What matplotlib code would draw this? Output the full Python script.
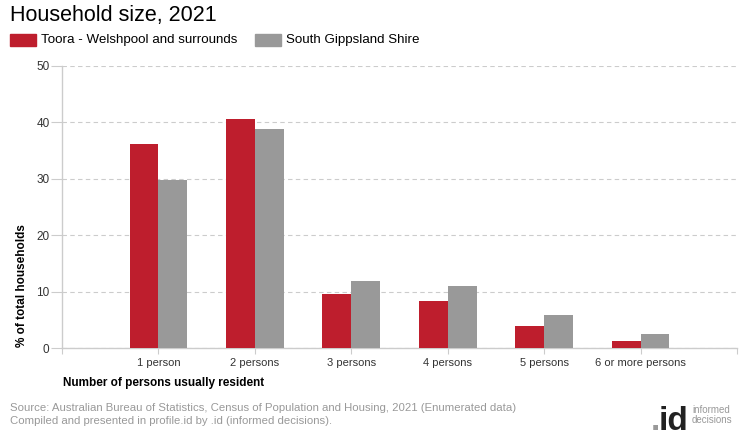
import numpy as np
import matplotlib
matplotlib.use("Agg")
import matplotlib.pyplot as plt
from matplotlib.patches import Rectangle

plt.rcParams['font.family'] = ['Liberation Sans', 'DejaVu Sans']

categories = ["1 person", "2 persons", "3 persons", "4 persons", "5 persons", "6 or more persons"]
toora = [36.2, 40.6, 9.6, 8.3, 3.9, 1.2]
south_gippsland = [29.8, 38.8, 11.9, 11.0, 5.9, 2.5]
series_names = ["Toora - Welshpool and surrounds", "South Gippsland Shire"]
colors = ["#BE1E2D", "#999999"]

fig = plt.figure(figsize=(7.4, 4.4), dpi=100)
ax = fig.add_axes([62 / 740, 1 - 348 / 440, 675 / 740, 282 / 440])

x = np.arange(1, len(categories) + 1)
w = 0.3
ax.bar(x - w / 2, toora, w, color=colors[0], zorder=3)
ax.bar(x + w / 2, south_gippsland, w, color=colors[1], zorder=3)

ax.set_xlim(0, 7)
ax.set_ylim(0, 50)
ax.set_yticks(range(0, 51, 10))
ax.set_xticks(list(range(0, 8)))
ax.set_xticklabels([""] + categories + [""])
ax.tick_params(axis='x', length=4, color="#cccccc", labelsize=8, labelcolor="#333333", pad=3)
ax.tick_params(axis='y', length=8, color="#cccccc", labelsize=8.5, labelcolor="#333333", pad=1)
ax.grid(axis='y', color="#cccccc", linestyle=(0, (4, 3)), linewidth=0.8, zorder=0)
for s in ["top", "right"]:
    ax.spines[s].set_visible(False)
for s in ["left", "bottom"]:
    ax.spines[s].set_color("#cccccc")
    ax.spines[s].set_linewidth(1)

ax.set_ylabel("% of total households", fontsize=8.5, fontweight="bold", loc="bottom")
ax.yaxis.set_label_coords(-34 / 675, 0.005)
fig.text(63 / 740, 1 - 383 / 440, "Number of persons usually resident", fontsize=8.5,
         fontweight="bold", va="center", ha="left")

# Titel und Legende
fig.text(10 / 740, 1 - 15 / 440, "Household size, 2021", fontsize=15.5, va="center", ha="left")
fig.patches.append(Rectangle((10 / 740, 1 - 46 / 440), 26 / 740, 12 / 440,
                             transform=fig.transFigure, color=colors[0]))
fig.text(41 / 740, 1 - 40 / 440, series_names[0], fontsize=9.6, va="center", ha="left")
fig.patches.append(Rectangle((255 / 740, 1 - 46 / 440), 26 / 740, 12 / 440,
                             transform=fig.transFigure, color=colors[1]))
fig.text(286 / 740, 1 - 40 / 440, series_names[1], fontsize=9.6, va="center", ha="left")

# Quelle
fig.text(10 / 740, 1 - 408 / 440,
         "Source: Australian Bureau of Statistics, Census of Population and Housing, 2021 (Enumerated data)",
         fontsize=8.2, color="#999999", va="center", ha="left")
fig.text(10 / 740, 1 - 421 / 440,
         "Compiled and presented in profile.id by .id (informed decisions).",
         fontsize=8.2, color="#999999", va="center", ha="left")
fig.text(660 / 740, 1 - 430 / 440, ".", fontsize=24, fontweight="bold", color="#999999",
         va="baseline", ha="right")
fig.text(659 / 740, 1 - 430 / 440, "id", fontsize=24, fontweight="bold", color="#222222",
         va="baseline", ha="left")
fig.text(692 / 740, 1 - 410 / 440, "informed", fontsize=7, color="#999999", va="center", ha="left")
fig.text(692 / 740, 1 - 420 / 440, "decisions", fontsize=7, color="#999999", va="center", ha="left")

fig.savefig("out.png", dpi=100)
